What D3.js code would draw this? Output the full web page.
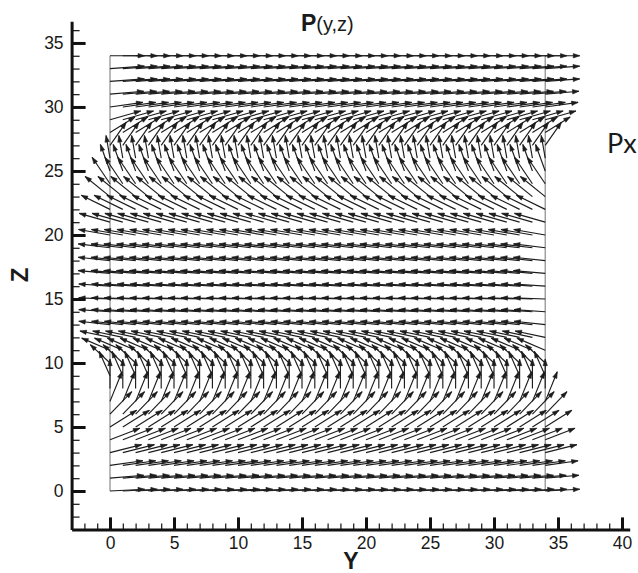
<!DOCTYPE html>
<html>
<head>
<meta charset="utf-8">
<script src="https://cdn.jsdelivr.net/npm/d3@7"></script>
<style>
	body { margin: 0; background: #fff; }
	svg text { font-family: "Liberation Sans", Arial, sans-serif; fill: #1a1a1a; }
	.axis path, .axis line { stroke: #111; }
</style>
</head>
<body>
<div id="chart"></div>
<script>
// Grid columns (Y) and rows (Z)
var colY = [0,1,2,3,4,5,6,7,8,9,10,11,12,13,14,15,16,17,18,19,20,21,22,23,24,25,26,27,28,29,30,31,32,33,34];
var rowZ = [0,1,2,3,4,5,6,7,8,9,10,11,12,13,14,15,16,17,18,19,20,21,22,23,24,25,26,27,28,29,30,31,32,33,34];

// Vector components for each row (the field is the same along Y)
var rowVy = [2.70, 2.64, 2.57, 2.47, 2.33, 2.08, 1.70, 0.94, 0.00, -0.85,
	-1.54, -2.21, -2.35, -2.44, -2.44, -2.45, -2.44, -2.49, -2.49, -2.48,
	-2.46, -2.40, -2.25, -1.94, -1.40, -0.75, -0.31, 1.26, 1.95, 2.40,
	2.57, 2.64, 2.69, 2.69, 2.70];
var rowVz = [0.14, 0.23, 0.36, 0.62, 0.90, 1.30, 1.76, 2.32, 2.30, 1.92,
	1.43, 0.94, 0.50, 0.26, 0.17, 0.09, 0.17, 0.22, 0.26, 0.30,
	0.43, 0.69, 1.10, 1.57, 2.07, 2.07, 1.77, 1.80, 1.22, 0.69,
	0.36, 0.23, 0.19, 0.19, 0.00];

// Axis ticks
var xMajorTicks = [0, 5, 10, 15, 20, 25, 30, 35, 40];
var yMajorTicks = [0, 5, 10, 15, 20, 25, 30, 35];

var svg_width = 638,
	svg_height = 573;

var svg = d3.select("#chart").append("svg")
	.attr("width", svg_width)
	.attr("height", svg_height);

// Scales: same px per unit on both axes
var xScale = d3.scaleLinear().domain([-3, 40.6]).range([71.6, 629.7]);
var yScale = d3.scaleLinear().domain([-3, 36.7]).range([529.4, 21.2]);

var xMinorTicks = d3.range(-2, 41).filter(function(v) { return v % 5 != 0; });
var yMinorTicks = d3.range(-2, 37).filter(function(v) { return v % 5 != 0; });

// Grid boundary lines (thin grey)
var gridTop = rowZ[rowZ.length - 1];
[colY[0], colY[colY.length - 1]].forEach(function(v) {
	svg.append("line")
		.attr("x1", xScale(v)).attr("x2", xScale(v))
		.attr("y1", yScale(0)).attr("y2", yScale(gridTop))
		.style("stroke", "#8a8a8a")
		.style("stroke-width", 1.2);
});

// Vectors
var vectors = [];
rowZ.forEach(function(z, i) {
	colY.forEach(function(y) {
		vectors.push({ y: y, z: z, vy: rowVy[i], vz: rowVz[i] });
	});
});

var arrows = svg.append("g").attr("class", "vectors");

arrows.selectAll(".vec-line")
	.data(vectors)
	.enter()
	.append("line")
	.attr("class", "vec-line")
	.attr("x1", function(d) { return xScale(d.y); })
	.attr("y1", function(d) { return yScale(d.z); })
	.attr("x2", function(d) { return xScale(d.y + d.vy); })
	.attr("y2", function(d) { return yScale(d.z + d.vz); })
	.style("stroke", "#1c1c1c")
	.style("stroke-width", 1.15);

var headLen = 6.5, headHalf = 2.2;
arrows.selectAll(".vec-head")
	.data(vectors)
	.enter()
	.append("path")
	.attr("class", "vec-head")
	.attr("d", function(d) {
		var x0 = xScale(d.y), y0 = yScale(d.z);
		var x1 = xScale(d.y + d.vy), y1 = yScale(d.z + d.vz);
		var len = Math.sqrt((x1-x0)*(x1-x0) + (y1-y0)*(y1-y0));
		var ux = (x1-x0)/len, uy = (y1-y0)/len;
		var bx = x1 - ux*headLen, by = y1 - uy*headLen;
		return "M" + x1 + "," + y1 +
			"L" + (bx - uy*headHalf) + "," + (by + ux*headHalf) +
			"L" + (bx + uy*headHalf) + "," + (by - ux*headHalf) + "Z";
	})
	.style("fill", "#1c1c1c")
	.style("stroke", "#1c1c1c")
	.style("stroke-width", 0.6);

// X-axis
var xAxis = d3.axisBottom(xScale).tickValues(xMajorTicks)
	.tickSizeInner(-12).tickSizeOuter(0).tickPadding(7)
	.tickFormat(d3.format("d"));
var xMinorAxis = d3.axisBottom(xScale).tickValues(xMinorTicks)
	.tickSizeInner(-6).tickSizeOuter(0).tickFormat("");

svg.append("g")
	.attr("class", "axis x-minor")
	.attr("transform", "translate(0," + yScale(-3) + ")")
	.call(xMinorAxis)
	.call(function(g) { g.select(".domain").remove(); })
	.selectAll("line").style("stroke-width", 1.2);

var gx = svg.append("g")
	.attr("class", "axis x-axis")
	.attr("transform", "translate(0," + yScale(-3) + ")")
	.call(xAxis);
gx.select(".domain").style("stroke-width", 3);
gx.selectAll(".tick line").style("stroke-width", 3);
gx.selectAll("text").style("font-size", "17.5px").style("fill", "#1a1a1a");

// Y-axis
var yAxis = d3.axisLeft(yScale).tickValues(yMajorTicks)
	.tickSizeInner(-14).tickSizeOuter(0).tickPadding(8)
	.tickFormat(d3.format("d"));
var yMinorAxis = d3.axisLeft(yScale).tickValues(yMinorTicks)
	.tickSizeInner(-8).tickSizeOuter(0).tickFormat("");

svg.append("g")
	.attr("class", "axis y-minor")
	.attr("transform", "translate(" + xScale(-3) + ",0)")
	.call(yMinorAxis)
	.call(function(g) { g.select(".domain").remove(); })
	.selectAll("line").style("stroke-width", 1.2);

var gy = svg.append("g")
	.attr("class", "axis y-axis")
	.attr("transform", "translate(" + xScale(-3) + ",0)")
	.call(yAxis);
gy.select(".domain").style("stroke-width", 3);
gy.selectAll(".tick line").style("stroke-width", 3);
gy.selectAll("text").style("font-size", "17.5px").style("fill", "#1a1a1a");

// Axis titles
svg.append("text")
	.attr("x", 351)
	.attr("y", 569)
	.attr("text-anchor", "middle")
	.style("font-size", "23px")
	.style("font-weight", "bold")
	.text("Y");

svg.append("text")
	.attr("transform", "translate(28,275) rotate(-90)")
	.attr("text-anchor", "middle")
	.style("font-size", "24px")
	.style("font-weight", "bold")
	.text("Z");

// Title
var title = svg.append("text")
	.attr("x", 301)
	.attr("y", 31);
title.append("tspan").style("font-size", "23px").style("font-weight", "bold").text("P");
title.append("tspan").style("font-size", "20px").text("(y,z)");

// Side label at the right edge
svg.append("text")
	.attr("x", 607)
	.attr("y", 153)
	.style("font-family", "Lato, 'Open Sans', sans-serif")
	.style("font-size", "27px")
	.text("Px");
</script>
</body>
</html>
